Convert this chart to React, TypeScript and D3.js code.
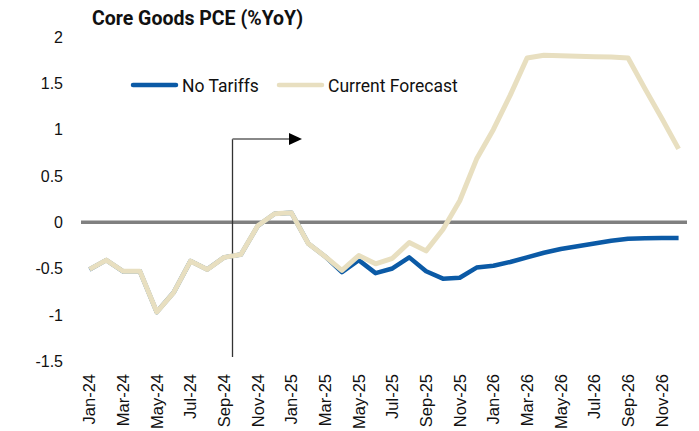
import React from "react";
import * as d3 from "d3";

const months: string[] = [
  "Jan-24", "Feb-24", "Mar-24", "Apr-24", "May-24", "Jun-24", "Jul-24", "Aug-24", "Sep-24", "Oct-24", "Nov-24", "Dec-24",
  "Jan-25", "Feb-25", "Mar-25", "Apr-25", "May-25", "Jun-25", "Jul-25", "Aug-25", "Sep-25", "Oct-25", "Nov-25", "Dec-25",
  "Jan-26", "Feb-26", "Mar-26", "Apr-26", "May-26", "Jun-26", "Jul-26", "Aug-26", "Sep-26", "Oct-26", "Nov-26", "Dec-26",
];

const currentForecast: number[] = [
  -0.51, -0.41, -0.53, -0.53, -0.97, -0.76, -0.42, -0.51, -0.38, -0.35, -0.04, 0.09,
  0.10, -0.23, -0.37, -0.52, -0.36, -0.45, -0.39, -0.22, -0.31, -0.08, 0.23, 0.68,
  1.0, 1.37, 1.77, 1.80, 1.795, 1.79, 1.785, 1.78, 1.77, 1.44, 1.12, 0.79,
];

const noTariffs: number[] = [
  -0.51, -0.41, -0.53, -0.53, -0.97, -0.76, -0.42, -0.51, -0.38, -0.35, -0.04, 0.09,
  0.10, -0.23, -0.37, -0.54, -0.41, -0.55, -0.50, -0.38, -0.53, -0.61, -0.60, -0.49,
  -0.47, -0.43, -0.38, -0.33, -0.29, -0.26, -0.23, -0.20, -0.18, -0.175, -0.17, -0.17,
];

const yTicks: number[] = [2, 1.5, 1, 0.5, 0, -0.5, -1, -1.5];
const tickMonths: string[] = months.filter((_, i) => i % 2 === 0);
const title = "Core Goods PCE (%YoY)";
const seriesNames: string[] = ["No Tariffs", "Current Forecast"];
const markerBoundary = "Oct-24";

const BLUE = "#0b5aa6";
const BEIGE = "#e8dfc0";

export default function App() {
  const W = 699;
  const H = 431;
  const x = d3.scaleBand<string>().domain(months).range([81, 687]).padding(0);
  const y = d3.scaleLinear().domain([-1.5, 2]).range([361.2, 36.7]);
  const cx = (m: string) => (x(m) as number) + x.bandwidth() / 2;

  const line = d3
    .line<number>()
    .x((_, i) => cx(months[i]))
    .y((d) => y(d));

  const bx = x(markerBoundary) as number;
  const arrowY = 139;

  return (
    <svg
      width={W}
      height={H}
      style={{ position: "absolute", left: 0, top: 0, background: "#fff" }}
    >
      <text
        x={92}
        y={25}
        fontFamily="Roboto, sans-serif"
        fontWeight={700}
        fontSize={19.5}
        fill="#111"
      >
        {title}
      </text>

      {yTicks.map((t) => (
        <text
          key={t}
          x={63}
          y={y(t) + 6}
          textAnchor="end"
          fontFamily="'Liberation Sans', Arial, sans-serif"
          fontSize={16}
          fill="#111"
        >
          {t}
        </text>
      ))}

      {tickMonths.map((m) => (
        <text
          key={m}
          transform={`translate(${cx(m) + 6},${374}) rotate(-90)`}
          textAnchor="end"
          fontFamily="'Liberation Sans', Arial, sans-serif"
          fontSize={16.5}
          fill="#111"
        >
          {m}
        </text>
      ))}

      <line x1={81} x2={687} y1={y(0)} y2={y(0)} stroke="#808080" strokeWidth={3.5} />

      {/* annotation */}
      <line x1={bx} x2={bx} y1={arrowY} y2={357} stroke="#333" strokeWidth={1.3} />
      <line x1={bx} x2={290} y1={arrowY} y2={arrowY} stroke="#888" strokeWidth={2.2} />
      <path d={`M289,${arrowY - 6} L302,${arrowY} L289,${arrowY + 6} Z`} fill="#000" />

      <path d={line(noTariffs) || ""} fill="none" stroke={BLUE} strokeWidth={4.5} strokeLinejoin="round" />
      <path d={line(currentForecast) || ""} fill="none" stroke={BEIGE} strokeWidth={5} strokeLinejoin="round" />

      {/* legend */}
      <line x1={133} x2={176} y1={85} y2={85} stroke={BLUE} strokeWidth={4.5} strokeLinecap="round" />
      <text x={182} y={91.5} fontFamily="Roboto, sans-serif" fontSize={17.5} fill="#111">
        {seriesNames[0]}
      </text>
      <line x1={279} x2={322} y1={85} y2={85} stroke={BEIGE} strokeWidth={4.5} strokeLinecap="round" />
      <text x={328} y={91.5} fontFamily="Roboto, sans-serif" fontSize={17.5} fill="#111">
        {seriesNames[1]}
      </text>
    </svg>
  );
}
